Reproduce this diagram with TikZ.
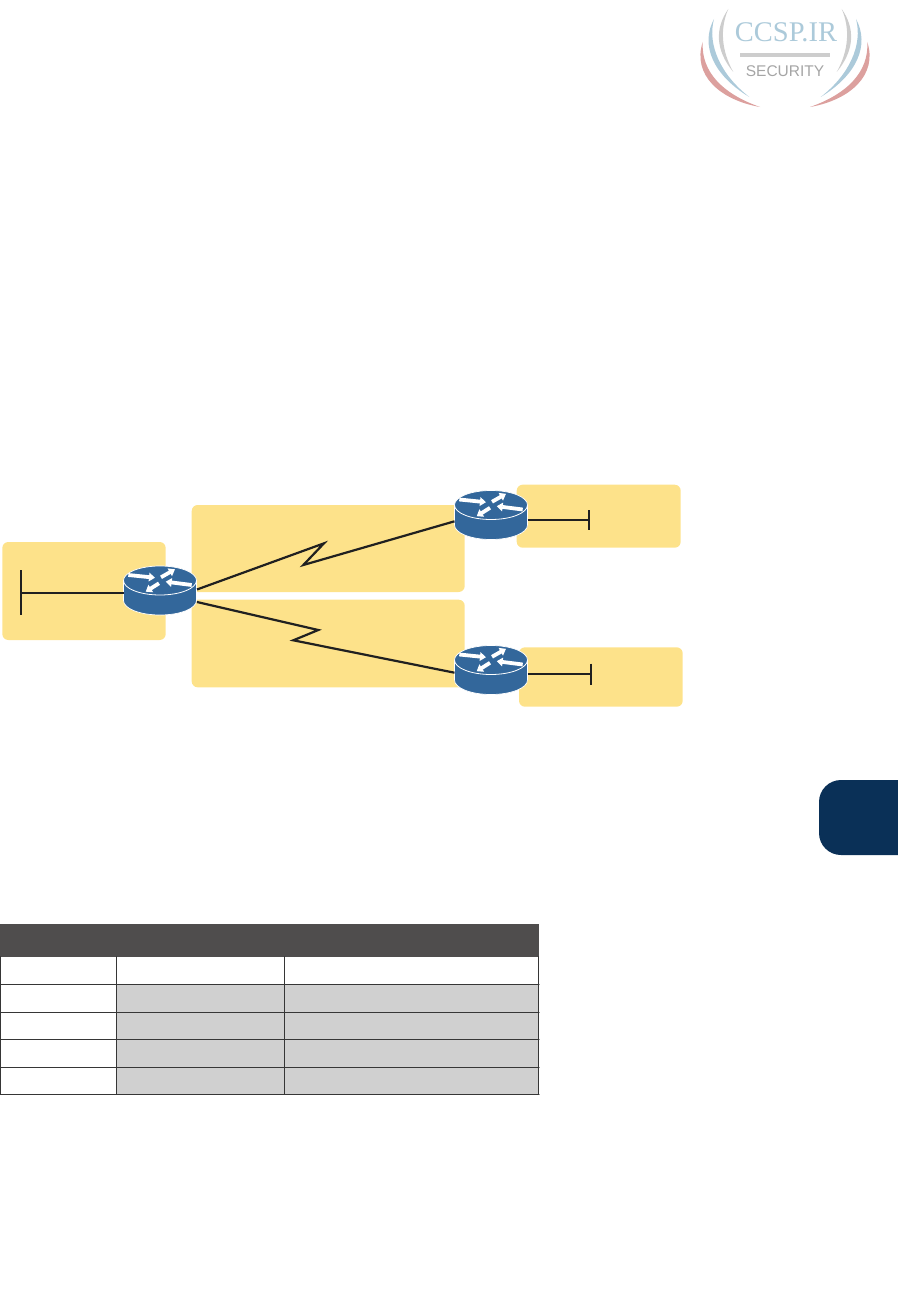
\documentclass[tikz,border=0pt]{standalone}
\usepackage{fontspec}
\usepackage{tikz}
\usetikzlibrary{arrows.meta,calc}
\newfontfamily\logoserif{Liberation Serif}
\newfontfamily\logosans{Liberation Sans}
\definecolor{routerblue}{RGB}{51,103,155}
\definecolor{lanyellow}{RGB}{253,226,138}
\definecolor{linkblack}{RGB}{32,32,32}
\definecolor{tabnavy}{RGB}{10,48,87}
\definecolor{headgray}{RGB}{79,77,77}
\definecolor{cellgray}{RGB}{208,208,208}
\definecolor{logoblue}{RGB}{172,202,218}
\definecolor{logored}{RGB}{220,160,158}
\definecolor{logogray}{RGB}{205,205,205}
\definecolor{logotext}{RGB}{165,165,165}
\tikzset{
 lanbox/.style={fill=lanyellow,rounded corners=6pt},
 link/.style={linkblack,line width=2.2pt,line cap=butt,line join=miter},
 routernode/.style={minimum width=73pt,minimum height=49pt,inner sep=0pt,outer sep=0pt},
 routerarrow/.style={white,line width=3.8pt,line cap=butt,-{Triangle[length=6pt,width=8.5pt]}},
 cellline/.style={linkblack!90,line width=1.2pt},
}
\begin{document}
\begin{tikzpicture}[x=1pt,y=-1pt,line cap=round,line join=round]
 \useasboundingbox (0,0) rectangle (897,1314);
 % Znak w prawym górnym rogu, lewa połowa odbita na prawą.
 \foreach \s in {1,-1} {
  \begin{scope}[shift={(785,0)},xscale=\s]
   \fill[logogray] (-56.7,9) .. controls (-70,28) and (-70,50) .. (-51.7,72)
    .. controls (-64,50) and (-65,28) .. cycle;
   \fill[logoblue] (-71,19) .. controls (-85,45) and (-72,75) .. (-35.7,97)
    .. controls (-64,75) and (-78,45) .. cycle;
   \fill[logored] (-82.3,42) .. controls (-93,75) and (-65,100) .. (-25,107)
    .. controls (-62,94) and (-84,72) .. cycle;
  \end{scope}
 }
 \node[logoblue,font=\logoserif\fontsize{28.5}{29}\selectfont,inner sep=0pt] (logoname) at (786,32) {CCSP.IR};
 \fill[logogray] (740,53) rectangle (830,57);
 \node[logotext,font=\logosans\fontsize{15.5}{16}\selectfont,inner sep=0pt] (logotag) at (785,71) {SECURITY};
 % Żółte pola pod sieciami.
 \fill[lanbox] (2.3,542) rectangle (165.7,640);
 \fill[lanbox] (191.7,505) rectangle (464.7,592);
 \fill[lanbox] (191.7,599.7) rectangle (464.7,687.3);
 \fill[lanbox] (516.7,484.7) rectangle (680.7,547.7);
 \fill[lanbox] (519,647.3) rectangle (682.7,706.7);
 % Routery.
 \foreach \rname/\rx/\ry in {routercentral/160/580.5,routerupper/491/505,routerlower/491/660} {
  \fill[routerblue,draw=white,line width=.7pt] (\rx-36.5,\ry) -- (\rx-36.5,\ry+20)
   arc[start angle=180,end angle=0,x radius=36.5,y radius=14.5]
   -- (\rx+36.5,\ry) arc[start angle=0,end angle=-180,x radius=36.5,y radius=14.5] -- cycle;
  \draw[white,line width=.8pt] (\rx-36.5,\ry)
   arc[start angle=180,end angle=0,x radius=36.5,y radius=14.5];
  \draw[routerarrow] (\rx-31.7,\ry-5.5) -- (\rx-5,\ry-2.8);
  \draw[routerarrow] (\rx+1,\ry-3.2) -- (\rx+15,\ry-11.2);
  \draw[routerarrow] (\rx+31.7,\ry+4.5) -- (\rx+5.7,\ry+1.2);
  \draw[routerarrow] (\rx-1,\ry+2.8) -- (\rx-14.3,\ry+11.2);
  \node[routernode] (\rname) at (\rx,\ry+10) {};
 }
 % Segmenty LAN.
 \coordinate (lanleft) at (21,593);
 \coordinate (lanupper) at (589,520);
 \coordinate (lanlower) at (590.7,674);
 \draw[link] (lanleft) ++(0,-23) -- ++(0,45);
 \draw[link] (lanleft) -- (routercentral.west |- lanleft);
 \draw[link] (lanupper) ++(0,-10) -- ++(0,20);
 \draw[link] (routerupper.east |- lanupper) -- (lanupper);
 \draw[link] (lanlower) ++(0,-10.5) -- ++(0,21);
 \draw[link] (routerlower.east |- lanlower) -- (lanlower);
 % Łącza szeregowe z załamaniem.
 \coordinate (upperstart) at (197,589.5);
 \coordinate (upperend) at (454.5,521.3);
 \coordinate (lowerstart) at (197,602);
 \coordinate (lowerend) at (454.5,672.7);
 \draw[link] (upperstart) -- (324,543.3) -- (303.3,565) -- (upperend);
 \draw[link] (lowerstart) -- (318.3,630) -- (293.3,640.3) -- (lowerend);
 % Zakładka rozdziału przy prawym brzegu.
 \fill[tabnavy,rounded corners=22pt] (819,780) rectangle (930,855);
 % Tabela bez tekstu.
 \fill[cellgray] (116.7,984.3) rectangle (538.3,1094.3);
 \fill[headgray] (0,924) rectangle (539,956.7);
 \foreach \ya in {984.3,1012.3,1039.3,1067.3,1094.3}
  \draw[cellline] (0,\ya) -- (539,\ya);
 \foreach \xa in {.7,116.7,284.3,538.3}
  \draw[cellline] (\xa,956.7) -- (\xa,1094.3);
\end{tikzpicture}
\end{document}
